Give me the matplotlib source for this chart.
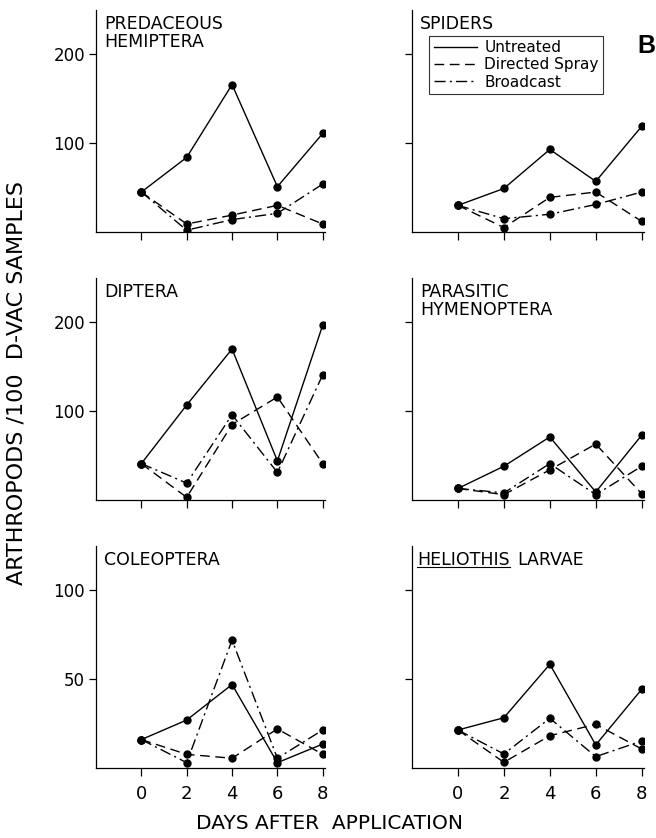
import matplotlib
matplotlib.use('Agg')
import matplotlib.pyplot as plt
from matplotlib.lines import Line2D

plt.rcParams['font.family'] = ['DejaVu Sans']

# days after application
days = [0, 2, 4, 6, 8]

# predaceous hemiptera
hemi_untreated = [45, 84, 166, 51, 111]
hemi_directed = [45, 9, 19, 30, 9]
hemi_broadcast = [45, 2, 14, 21, 54]

# spiders
spid_untreated = [30, 49, 93, 57, 119]
spid_directed = [30, 5, 39, 45, 12]
spid_broadcast = [30, 15, 20, 31, 45]

# diptera
dipt_untreated = [41, 107, 170, 44, 197]
dipt_directed = [41, 3, 85, 116, 41]
dipt_broadcast = [41, 19, 96, 31, 141]

# parasitic hymenoptera
hyme_untreated = [13, 38, 71, 9, 73]
hyme_directed = [13, 6, 34, 63, 7]
hyme_broadcast = [13, 8, 41, 6, 38]

# coleoptera
cole_untreated = [16, 27, 47, 3, 13.5]
cole_directed = [16, 7.7, 5.5, 22, 7.7]
cole_broadcast = [16, 3, 72, 5.5, 21.4]

# heliothis larvae
heli_untreated = [21.4, 28.3, 58.4, 13, 44.3]
heli_directed = [21.4, 3.2, 18.2, 24.6, 10.7]
heli_broadcast = [21.4, 7.9, 28, 6.4, 15.2]

series_names = ['Untreated', 'Directed Spray', 'Broadcast']
styles = ['-', (0, (7, 4)), (0, (8, 3, 1.5, 3))]

W, H = 656, 838
fig = plt.figure(figsize=(W / 100, H / 100), dpi=100)


def make_axes(left, top, width, height):
    # pixel box -> figure fraction
    return fig.add_axes([left / W, 1 - (top + height) / H, width / W, height / H])


def draw_panel(ax, title, data, ymax, yticks, left_labels, bottom_labels):
    for vals, ls in zip(data, styles):
        ax.plot(days, vals, color='black', linestyle=ls, lw=1.0,
                marker='o', markersize=5)
    ax.set_xlim(-2, 8.1)
    ax.set_ylim(0, ymax)
    ax.set_xticks(days)
    ax.set_yticks(yticks)
    ax.spines['top'].set_visible(False)
    ax.spines['right'].set_visible(False)
    ax.spines['left'].set_linewidth(0.9)
    ax.spines['bottom'].set_linewidth(0.9)
    ax.tick_params(direction='out', length=5, width=0.9, labelsize=12, pad=3)
    ax.tick_params(axis='x', length=6, labelsize=13, pad=6)
    if not left_labels:
        ax.set_yticklabels([])
    if not bottom_labels:
        ax.set_xticklabels([])
    if title:
        ax.annotate(title, xy=(0, 1), xycoords='axes fraction', xytext=(8, -5),
                    textcoords='offset pixels', ha='left', va='top',
                    fontsize=12.5, linespacing=1.0)


ax1 = make_axes(96, 10, 229, 222)
ax2 = make_axes(412, 10, 232, 222)
ax3 = make_axes(96, 278, 229, 222)
ax4 = make_axes(412, 278, 232, 222)
ax5 = make_axes(96, 546, 229, 222)
ax6 = make_axes(412, 546, 232, 222)

draw_panel(ax1, 'PREDACEOUS\nHEMIPTERA', [hemi_untreated, hemi_directed, hemi_broadcast],
           250, [100, 200], True, False)
draw_panel(ax2, 'SPIDERS', [spid_untreated, spid_directed, spid_broadcast],
           250, [100, 200], False, False)
draw_panel(ax3, 'DIPTERA', [dipt_untreated, dipt_directed, dipt_broadcast],
           250, [100, 200], True, False)
draw_panel(ax4, 'PARASITIC\nHYMENOPTERA', [hyme_untreated, hyme_directed, hyme_broadcast],
           250, [100, 200], False, False)
draw_panel(ax5, 'COLEOPTERA', [cole_untreated, cole_directed, cole_broadcast],
           125, [50, 100], True, True)
draw_panel(ax6, None, [heli_untreated, heli_directed, heli_broadcast],
           125, [50, 100], False, True)

# heliothis title: genus underlined, then LARVAE after it
t_genus = ax6.annotate('HELIOTHIS', xy=(0, 1), xycoords='axes fraction',
                       xytext=(5, -5), textcoords='offset pixels',
                       ha='left', va='top', fontsize=12.5)

# legend in the spiders panel
handles = [Line2D([], [], color='black', lw=1.0, linestyle=ls) for ls in styles]
leg = ax2.legend(handles, series_names, loc='upper left', bbox_to_anchor=(0.075, 0.885),
                 borderaxespad=0, frameon=True, fancybox=False, fontsize=11,
                 handlelength=2.8, handletextpad=0.5, labelspacing=0.15,
                 borderpad=0.3)
leg.get_frame().set_edgecolor('black')
leg.get_frame().set_linewidth(0.8)

fig.text(637 / W, 1 - 46 / H, 'B', fontsize=18, fontweight='bold',
         family='Liberation Sans', ha='left', va='center')

fig.text(17 / W, 1 - 383 / H, 'ARTHROPODS /100  D-VAC SAMPLES', rotation=90,
         fontsize=16, ha='center', va='center')
fig.text(330 / W, 1 - 823 / H, 'DAYS AFTER  APPLICATION',
         fontsize=14.5, ha='center', va='center')

fig.canvas.draw()
bb = t_genus.get_window_extent()
ax6.annotate('LARVAE', xy=(0, 1), xycoords='axes fraction',
             xytext=(5 + bb.width + 8, -5), textcoords='offset pixels',
             ha='left', va='top', fontsize=12.5)
inv = fig.transFigure.inverted()
(x0, y0), (x1, _) = inv.transform([(bb.x0, bb.y0 + 2), (bb.x1, bb.y0 + 2)])
fig.add_artist(Line2D([x0, x1], [y0, y0], transform=fig.transFigure,
                      color='black', lw=0.8))

fig.savefig('out.png', dpi=100)
